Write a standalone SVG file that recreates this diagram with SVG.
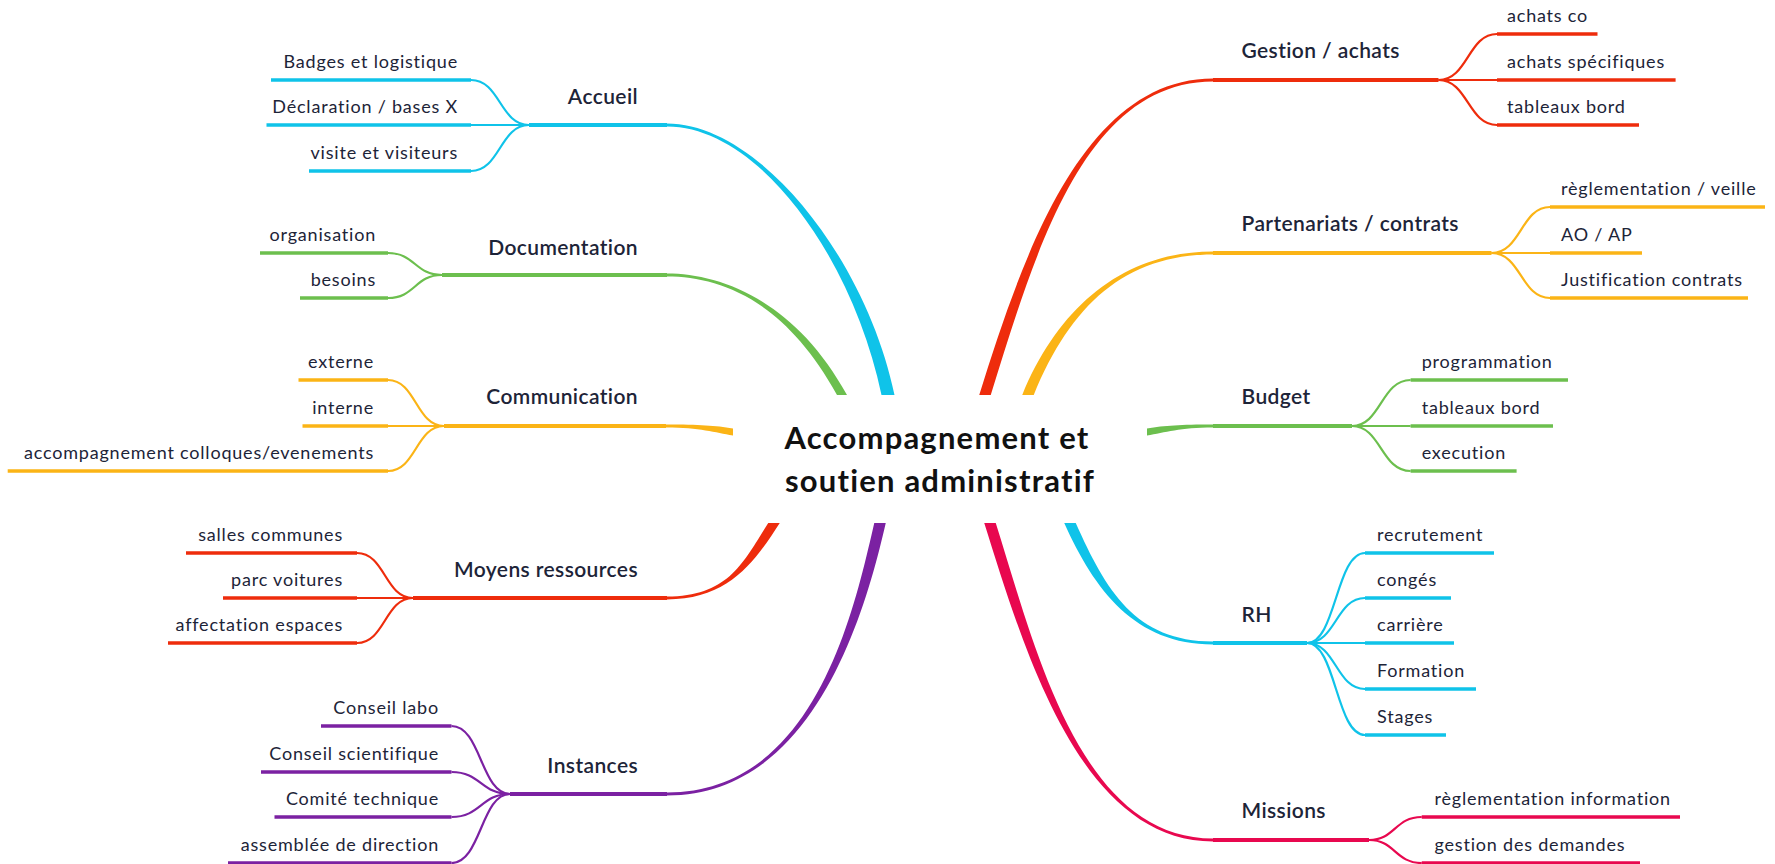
<svg xmlns="http://www.w3.org/2000/svg" width="1775" height="864" viewBox="0 0 1775 864">
<style>
.t{font-family:Lato,"Noto Sans","Liberation Sans",sans-serif;fill:#1d2438}
.leaf{font-size:18px;letter-spacing:0.8px}
.main{font-size:21px;font-weight:600;letter-spacing:0.4px}
.center{font-size:31px;font-weight:700;fill:#111111;letter-spacing:1.2px}
.ul{fill:none;stroke-width:3.4}
.cv{fill:none;stroke-width:2.2}
.ml{fill:none;stroke-width:4}
.cyan{stroke:#0fc3e9}.green{stroke:#6cbf4e}.yellow{stroke:#fbb416}.red{stroke:#ee2c0c}.purple{stroke:#7b21a2}.pink{stroke:#e8084f}
.fcyan{fill:#0fc3e9}.fgreen{fill:#6cbf4e}.fyellow{fill:#fbb416}.fred{fill:#ee2c0c}.fpurple{fill:#7b21a2}.fpink{fill:#e8084f}
</style>
<rect width="1775" height="864" fill="#ffffff"/>
<g id="connectors">
  <path class="fcyan" d="M667,123.5 C760,123.5 866.5,260 894.5,395 L881.5,395 C853.5,260 760,126.5 667,126.5 Z"/>
  <path class="fgreen" d="M667,273.5 C720,273.5 795,300 847,395 L837,395 C785,300 720,276.5 667,276.5 Z"/>
  <path class="fyellow" d="M666,424.5 C700,424.5 715,425.5 733,428.5 L733,435.5 C715,432.5 700,427.5 666,427.5 Z"/>
  <path class="fred" d="M667,596.5 C730,596.5 744.25,560 768.25,523 L779.75,523 C755.75,560 730,599.5 667,599.5 Z"/>
  <path class="fpurple" d="M667,792.5 C815,792.5 854.25,610 874.25,523 L885.75,523 C865.75,610 815,795.5 667,795.5 Z"/>
  <path class="fred" d="M1213,78.5 C1085,78.5 1024.25,250 979.25,395 L990.75,395 C1035.75,250 1085,81.5 1213,81.5 Z"/>
  <path class="fyellow" d="M1213,251.5 C1125,251.5 1059.25,305 1022.25,395 L1033.75,395 C1070.75,305 1125,254.5 1213,254.5 Z"/>
  <path class="fgreen" d="M1213,424.5 C1180,424.5 1165,425.5 1147,428.5 L1147,435.5 C1165,432.5 1180,427.5 1213,427.5 Z"/>
  <path class="fcyan" d="M1213,641.5 C1135,641.5 1105.75,590 1075.75,523 L1064.25,523 C1094.25,590 1135,644.5 1213,644.5 Z"/>
  <path class="fpink" d="M1213,838.5 C1080,838.5 1035.75,650 995.75,523 L984.25,523 C1024.25,650 1080,841.5 1213,841.5 Z"/>
  <g class="cv cyan">
    <path d="M471,80 C500,80 500,125 529,125"/>
    <path d="M471,125 L529,125"/>
    <path d="M471,171 C500,171 500,125 529,125"/>
    <path d="M1307,643 C1336,643 1336,553 1365,553"/>
    <path d="M1307,643 C1336,643 1336,598 1365,598"/>
    <path d="M1307,643 L1365,643"/>
    <path d="M1307,643 C1336,643 1336,689 1365,689"/>
    <path d="M1307,643 C1336,643 1336,735 1365,735"/>
  </g>
  <g class="cv green">
    <path d="M388,253 C415,253 415,275 442,275"/>
    <path d="M388,298 C415,298 415,275 442,275"/>
    <path d="M1352,426 C1381,426 1381,380 1410.6,380"/>
    <path d="M1352,426 L1410.6,426"/>
    <path d="M1352,426 C1381,426 1381,471 1410.6,471"/>
  </g>
  <g class="cv yellow">
    <path d="M388,380 C416,380 416,426 444,426"/>
    <path d="M388,426 L444,426"/>
    <path d="M388,471 C416,471 416,426 444,426"/>
    <path d="M1491.5,253 C1521,253 1521,207 1550,207"/>
    <path d="M1491.5,253 L1550,253"/>
    <path d="M1491.5,253 C1521,253 1521,298 1550,298"/>
  </g>
  <g class="cv red">
    <path d="M357,553 C385,553 385,598 413,598"/>
    <path d="M357,598 L413,598"/>
    <path d="M357,643 C385,643 385,598 413,598"/>
    <path d="M1438.5,80 C1468,80 1468,34 1497,34"/>
    <path d="M1438.5,80 L1497,80"/>
    <path d="M1438.5,80 C1468,80 1468,125 1497,125"/>
  </g>
  <g class="cv purple">
    <path d="M451.5,726 C481,726 481,794 510,794"/>
    <path d="M451.5,772 C481,772 481,794 510,794"/>
    <path d="M451.5,817 C481,817 481,794 510,794"/>
    <path d="M451.5,863 C481,863 481,794 510,794"/>
  </g>
  <g class="cv pink">
    <path d="M1369,840 C1395,840 1395,817 1421.7,817"/>
    <path d="M1369,840 C1395,840 1395,863 1421.7,863"/>
  </g>
</g>

<g id="center"><text class="t center" text-anchor="middle" x="937" y="449">Accompagnement et</text><text class="t center" text-anchor="middle" x="940" y="492">soutien administratif</text></g>

<g id="accueil"><path class="ml cyan" d="M529,125 H667"/><text class="t main" text-anchor="end" x="638" y="104">Accueil</text></g>
<g id="documentation"><path class="ml green" d="M442,275 H667"/><text class="t main" text-anchor="end" x="638" y="255">Documentation</text></g>
<g id="communication"><path class="ml yellow" d="M444,426 H666"/><text class="t main" text-anchor="end" x="638" y="404">Communication</text></g>
<g id="moyens"><path class="ml red" d="M413,598 H667"/><text class="t main" text-anchor="end" x="638" y="577">Moyens ressources</text></g>
<g id="instances"><path class="ml purple" d="M510,794 H667"/><text class="t main" text-anchor="end" x="638" y="773">Instances</text></g>
<g id="gestion"><path class="ml red" d="M1213,80 H1438.5"/><text class="t main" x="1241.5" y="58">Gestion / achats</text></g>
<g id="partenariats"><path class="ml yellow" d="M1213,253 H1491.5"/><text class="t main" x="1241.5" y="231">Partenariats / contrats</text></g>
<g id="budget"><path class="ml green" d="M1213,426 H1352"/><text class="t main" x="1241.5" y="404">Budget</text></g>
<g id="rh"><path class="ml cyan" d="M1213,643 H1307"/><text class="t main" x="1241.5" y="622">RH</text></g>
<g id="missions"><path class="ml pink" d="M1213,840 H1369"/><text class="t main" x="1241.5" y="818">Missions</text></g>

<g id="badges"><path class="ul cyan" d="M271,80 H471"/><text class="t leaf" text-anchor="end" x="458" y="68">Badges et logistique</text></g>
<g id="declaration"><path class="ul cyan" d="M266.5,125 H471"/><text class="t leaf" text-anchor="end" x="458" y="113">Déclaration / bases X</text></g>
<g id="visite"><path class="ul cyan" d="M309,171 H471"/><text class="t leaf" text-anchor="end" x="458" y="159">visite et visiteurs</text></g>
<g id="organisation"><path class="ul green" d="M260,253 H388"/><text class="t leaf" text-anchor="end" x="376" y="241">organisation</text></g>
<g id="besoins"><path class="ul green" d="M300,298 H388"/><text class="t leaf" text-anchor="end" x="376" y="286">besoins</text></g>
<g id="externe"><path class="ul yellow" d="M298.5,380 H388"/><text class="t leaf" text-anchor="end" x="374" y="368">externe</text></g>
<g id="interne"><path class="ul yellow" d="M302.5,426 H388"/><text class="t leaf" text-anchor="end" x="374" y="414">interne</text></g>
<g id="colloques"><path class="ul yellow" d="M7.7,471 H388"/><text class="t leaf" text-anchor="end" x="374" y="459">accompagnement colloques/evenements</text></g>
<g id="salles"><path class="ul red" d="M186,553 H357"/><text class="t leaf" text-anchor="end" x="343" y="541">salles communes</text></g>
<g id="parc"><path class="ul red" d="M223,598 H357"/><text class="t leaf" text-anchor="end" x="343" y="586">parc voitures</text></g>
<g id="affectation"><path class="ul red" d="M168,643 H357"/><text class="t leaf" text-anchor="end" x="343" y="631">affectation espaces</text></g>
<g id="conseil-labo"><path class="ul purple" d="M321,726 H451.5"/><text class="t leaf" text-anchor="end" x="439" y="714">Conseil labo</text></g>
<g id="conseil-sci"><path class="ul purple" d="M261,772 H451.5"/><text class="t leaf" text-anchor="end" x="439" y="760">Conseil scientifique</text></g>
<g id="comite"><path class="ul purple" d="M274.5,817 H451.5"/><text class="t leaf" text-anchor="end" x="439" y="805">Comité technique</text></g>
<g id="assemblee"><path class="ul purple" d="M228,863 H451.5"/><text class="t leaf" text-anchor="end" x="439" y="851">assemblée de direction</text></g>

<g id="achats-co"><path class="ul red" d="M1497,34 H1597.5"/><text class="t leaf" x="1507" y="22">achats co</text></g>
<g id="achats-spec"><path class="ul red" d="M1497,80 H1675.6"/><text class="t leaf" x="1507" y="68">achats spécifiques</text></g>
<g id="tableaux-g"><path class="ul red" d="M1497,125 H1639"/><text class="t leaf" x="1507" y="113">tableaux bord</text></g>
<g id="reglementation-veille"><path class="ul yellow" d="M1550,207 H1765"/><text class="t leaf" x="1561" y="195">règlementation / veille</text></g>
<g id="ao-ap"><path class="ul yellow" d="M1550,253 H1642"/><text class="t leaf" x="1561" y="241">AO / AP</text></g>
<g id="justification"><path class="ul yellow" d="M1550,298 H1748"/><text class="t leaf" x="1561" y="286">Justification contrats</text></g>
<g id="programmation"><path class="ul green" d="M1410.6,380 H1568"/><text class="t leaf" x="1421.7" y="368">programmation</text></g>
<g id="tableaux-b"><path class="ul green" d="M1410.6,426 H1553"/><text class="t leaf" x="1421.7" y="414">tableaux bord</text></g>
<g id="execution"><path class="ul green" d="M1410.6,471 H1516.6"/><text class="t leaf" x="1421.7" y="459">execution</text></g>
<g id="recrutement"><path class="ul cyan" d="M1365,553 H1494"/><text class="t leaf" x="1377" y="541">recrutement</text></g>
<g id="conges"><path class="ul cyan" d="M1365,598 H1451"/><text class="t leaf" x="1377" y="586">congés</text></g>
<g id="carriere"><path class="ul cyan" d="M1365,643 H1454"/><text class="t leaf" x="1377" y="631">carrière</text></g>
<g id="formation"><path class="ul cyan" d="M1365,689 H1476"/><text class="t leaf" x="1377" y="677">Formation</text></g>
<g id="stages"><path class="ul cyan" d="M1365,735 H1446"/><text class="t leaf" x="1377" y="723">Stages</text></g>
<g id="reglementation-info"><path class="ul pink" d="M1421.7,817 H1680"/><text class="t leaf" x="1434.5" y="805">règlementation information</text></g>
<g id="gestion-demandes"><path class="ul pink" d="M1421.7,863 H1640"/><text class="t leaf" x="1434.5" y="851">gestion des demandes</text></g>
</svg>
